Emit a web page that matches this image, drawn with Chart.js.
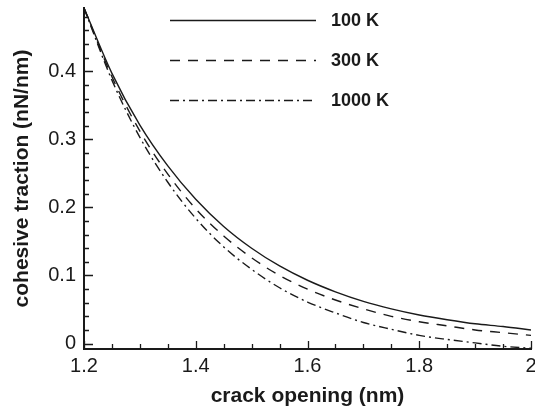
<!DOCTYPE html>
<html>
<head>
<meta charset="utf-8">
<script src="https://cdn.jsdelivr.net/npm/chart.js@4/dist/chart.umd.min.js"></script>
<style>
body { margin: 0; background: #fff; }
canvas { display: block; }
</style>
</head>
<body>
<canvas id="tractionChart" width="535" height="409"></canvas>
<script>
// crack opening (nm) and cohesive traction (nN/nm) for each temperature
const opening = [1.20, 1.25, 1.30, 1.35, 1.40, 1.45, 1.50, 1.55, 1.60, 1.65, 1.70, 1.75, 1.80, 1.85, 1.90, 1.95, 2.00];
const traction100 = [0.493, 0.397, 0.321, 0.261, 0.212, 0.172, 0.140, 0.114, 0.093, 0.076, 0.062, 0.051, 0.042, 0.035, 0.029, 0.025, 0.020];
const traction300 = [0.493, 0.392, 0.312, 0.249, 0.198, 0.158, 0.126, 0.100, 0.080, 0.064, 0.051, 0.040, 0.032, 0.026, 0.020, 0.016, 0.012];
const traction1000 = [0.493, 0.387, 0.303, 0.237, 0.184, 0.142, 0.109, 0.082, 0.061, 0.045, 0.031, 0.021, 0.012, 0.006, 0.001, -0.004, -0.007];
const seriesNames = ["100 K", "300 K", "1000 K"];

const xTicks = [1.2, 1.4, 1.6, 1.8, 2.0];
const xTickLabels = ["1.2", "1.4", "1.6", "1.8", "2"];
const yTicks = [0, 0.1, 0.2, 0.3, 0.4];
const yTickLabels = ["0", "0.1", "0.2", "0.3", "0.4"];

const ink = "#1a1a1a";
const fontFamily = "'Liberation Sans', Arial, Helvetica, sans-serif";

function toPoints(values) {
  return values.map((v, i) => ({ x: opening[i], y: v }));
}

// short inward ticks, major and minor, along both axes
const innerTicks = {
  id: "innerTicks",
  afterDraw(chart) {
    const ctx = chart.ctx;
    const xs = chart.scales.x;
    const ys = chart.scales.y;
    const area = chart.chartArea;
    ctx.save();
    ctx.strokeStyle = ink;
    ctx.lineWidth = 1.3;
    ctx.beginPath();
    for (let i = 0; i <= 16; i++) {
      const v = Math.round((1.2 + i * 0.05) * 100) / 100;
      const major = xTicks.some(t => Math.abs(t - v) < 1e-6);
      const px = Math.round(xs.getPixelForValue(v)) + 0.5;
      ctx.moveTo(px, area.bottom);
      ctx.lineTo(px, area.bottom - (major ? 8 : 5));
    }
    for (let i = 0; i <= 24; i++) {
      const v = Math.round(i * 2) / 100;
      const major = yTicks.some(t => Math.abs(t - v) < 1e-6);
      const py = Math.round(ys.getPixelForValue(v)) + 0.5;
      ctx.moveTo(area.left, py);
      ctx.lineTo(area.left + (major ? 9 : 5), py);
    }
    ctx.stroke();
    ctx.restore();
  }
};

// legend in the upper right of the plot: long line samples with bold labels
const lineLegend = {
  id: "lineLegend",
  afterDraw(chart) {
    const ctx = chart.ctx;
    const rows = [20.5, 60.5, 100.5];
    ctx.save();
    chart.data.datasets.forEach((ds, i) => {
      ctx.beginPath();
      ctx.strokeStyle = ds.borderColor;
      ctx.lineWidth = ds.borderWidth;
      ctx.setLineDash(ds.borderDash || []);
      ctx.moveTo(170, rows[i]);
      ctx.lineTo(316, rows[i]);
      ctx.stroke();
      ctx.setLineDash([]);
      ctx.fillStyle = ink;
      ctx.font = "bold 18px " + fontFamily;
      ctx.textAlign = "left";
      ctx.textBaseline = "middle";
      ctx.fillText(ds.label, 331, rows[i] + 1);
    });
    ctx.restore();
  }
};

new Chart(document.getElementById("tractionChart"), {
  type: "line",
  data: {
    datasets: [
      { label: seriesNames[0], data: toPoints(traction100), borderDash: [] },
      { label: seriesNames[1], data: toPoints(traction300), borderDash: [10, 8] },
      { label: seriesNames[2], data: toPoints(traction1000), borderDash: [9, 4, 2, 4] }
    ].map(ds => Object.assign(ds, {
      borderColor: ink,
      borderWidth: 1.4,
      pointRadius: 0,
      fill: false,
      cubicInterpolationMode: "monotone"
    }))
  },
  options: {
    responsive: false,
    animation: false,
    layout: { padding: { top: 8, right: 4, left: 0, bottom: 0 } },
    plugins: {
      legend: { display: false },
      tooltip: { enabled: false }
    },
    scales: {
      x: {
        type: "linear",
        min: 1.2,
        max: 2.0,
        afterBuildTicks: scale => { scale.ticks = xTicks.map(v => ({ value: v })); },
        afterFit: scale => { scale.height = 60; scale.paddingLeft = 0; scale.paddingRight = 0; },
        grid: { display: false, drawTicks: false },
        border: { display: true, color: ink, width: 2 },
        ticks: {
          padding: 5,
          color: ink,
          font: { family: fontFamily, size: 20 },
          maxRotation: 0,
          callback: (value, index) => xTickLabels[index]
        },
        title: {
          display: true,
          text: "crack opening (nm)",
          color: ink,
          font: { family: fontFamily, size: 21, weight: "bold" },
          padding: { top: 0, bottom: 0 }
        }
      },
      y: {
        type: "linear",
        min: -0.008,
        max: 0.493,
        afterBuildTicks: scale => { scale.ticks = yTicks.map(v => ({ value: v })); },
        afterFit: scale => { scale.width = 84; scale.paddingTop = 0; scale.paddingBottom = 0; },
        grid: { display: false, drawTicks: false },
        border: { display: true, color: ink, width: 2 },
        ticks: {
          padding: 8,
          color: ink,
          font: { family: fontFamily, size: 20 },
          callback: (value, index) => yTickLabels[index]
        },
        title: {
          display: true,
          text: "cohesive traction (nN/nm)",
          color: ink,
          font: { family: fontFamily, size: 21, weight: "bold" },
          padding: { top: 10, bottom: 0 }
        }
      }
    }
  },
  plugins: [innerTicks, lineLegend]
});
</script>
</body>
</html>
